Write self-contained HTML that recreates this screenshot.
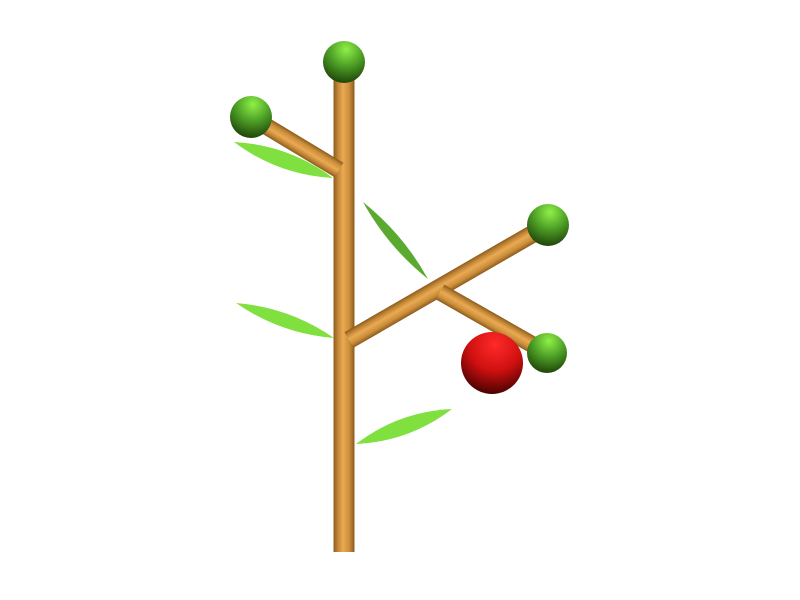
<!DOCTYPE html>
<html><head><meta charset="utf-8"><style>html,body{margin:0;padding:0;background:#fff}svg{display:block}</style></head>
<body>
<svg id="c" width="800" height="600" viewBox="0 0 800 600">
<defs>
<linearGradient id="wood" x1="0" y1="0" x2="0" y2="1">
<stop offset="0" stop-color="#8a5c1c"/><stop offset="0.2" stop-color="#c08436"/><stop offset="0.45" stop-color="#eaaa52"/><stop offset="0.75" stop-color="#cc8e3c"/><stop offset="1" stop-color="#8a5c1c"/>
</linearGradient>
<radialGradient id="gball" cx="0.55" cy="0.2" r="0.85"><stop offset="0" stop-color="#8ef048"/><stop offset="0.5" stop-color="#4a9a24"/><stop offset="1" stop-color="#1a3a08"/></radialGradient>
<radialGradient id="rball" cx="0.55" cy="0.2" r="0.85"><stop offset="0" stop-color="#ff2a2a"/><stop offset="0.5" stop-color="#d01010"/><stop offset="1" stop-color="#3a0000"/></radialGradient>
</defs>
<g id="leaves"></g><g id="stems"></g><g id="balls"></g>
</svg>
<script>
const NS='http://www.w3.org/2000/svg';
// data
const leafStarts=[[234,142],[363,202],[236,303],[356,444]];
const leafEnds=[[333,178],[428,279],[334,338],[452,409]];
const leafBulge=[8,5,7,8];
const leafColors=['#7fe040','#5aaa30','#7fe040','#7fe040'];
const branchStarts=[[344,552],[339,170],[349,340],[440,292]];
const branchEnds=[[344,62],[251,117],[548,225],[547,353]];
const branchWidths=[21,17,18,17];
const ballCenters=[[344,62],[251,117],[548,225],[547,353],[492,363]];
const ballRadii=[21,21,21,20,31];
const ballKinds=['g','g','g','g','r'];

const lg=document.getElementById('leaves');
leafStarts.forEach((s,i)=>{
  const e=leafEnds[i];const dx=e[0]-s[0],dy=e[1]-s[1];const L=Math.hypot(dx,dy);
  const nx=-dy/L*leafBulge[i],ny=dx/L*leafBulge[i];
  const mx=(s[0]+e[0])/2,my=(s[1]+e[1])/2;
  const p=document.createElementNS(NS,'path');
  p.setAttribute('d',`M${s[0]},${s[1]} Q${mx+nx*2},${my+ny*2} ${e[0]},${e[1]} Q${mx-nx*2},${my-ny*2} ${s[0]},${s[1]}Z`);
  p.setAttribute('fill',leafColors[i]);
  
  
  lg.appendChild(p);
});
const sg=document.getElementById('stems');
branchStarts.forEach((s,i)=>{
  const e=branchEnds[i];const dx=e[0]-s[0],dy=e[1]-s[1];const L=Math.hypot(dx,dy);
  const ang=Math.atan2(dy,dx)*180/Math.PI;const w=branchWidths[i];
  const r=document.createElementNS(NS,'rect');
  r.setAttribute('x',0);r.setAttribute('y',-w/2);r.setAttribute('width',L);r.setAttribute('height',w);
  r.setAttribute('fill','url(#wood)');
  r.setAttribute('transform',`translate(${s[0]},${s[1]}) rotate(${ang})`);
  
  
  sg.appendChild(r);
});
const bg=document.getElementById('balls');
ballCenters.forEach((c,i)=>{
  const ci=document.createElementNS(NS,'circle');
  ci.setAttribute('cx',c[0]);ci.setAttribute('cy',c[1]);ci.setAttribute('r',ballRadii[i]);
  ci.setAttribute('fill',ballKinds[i]==='g'?'url(#gball)':'url(#rball)');
  
  
  bg.appendChild(ci);
});
</script>
</body></html>
